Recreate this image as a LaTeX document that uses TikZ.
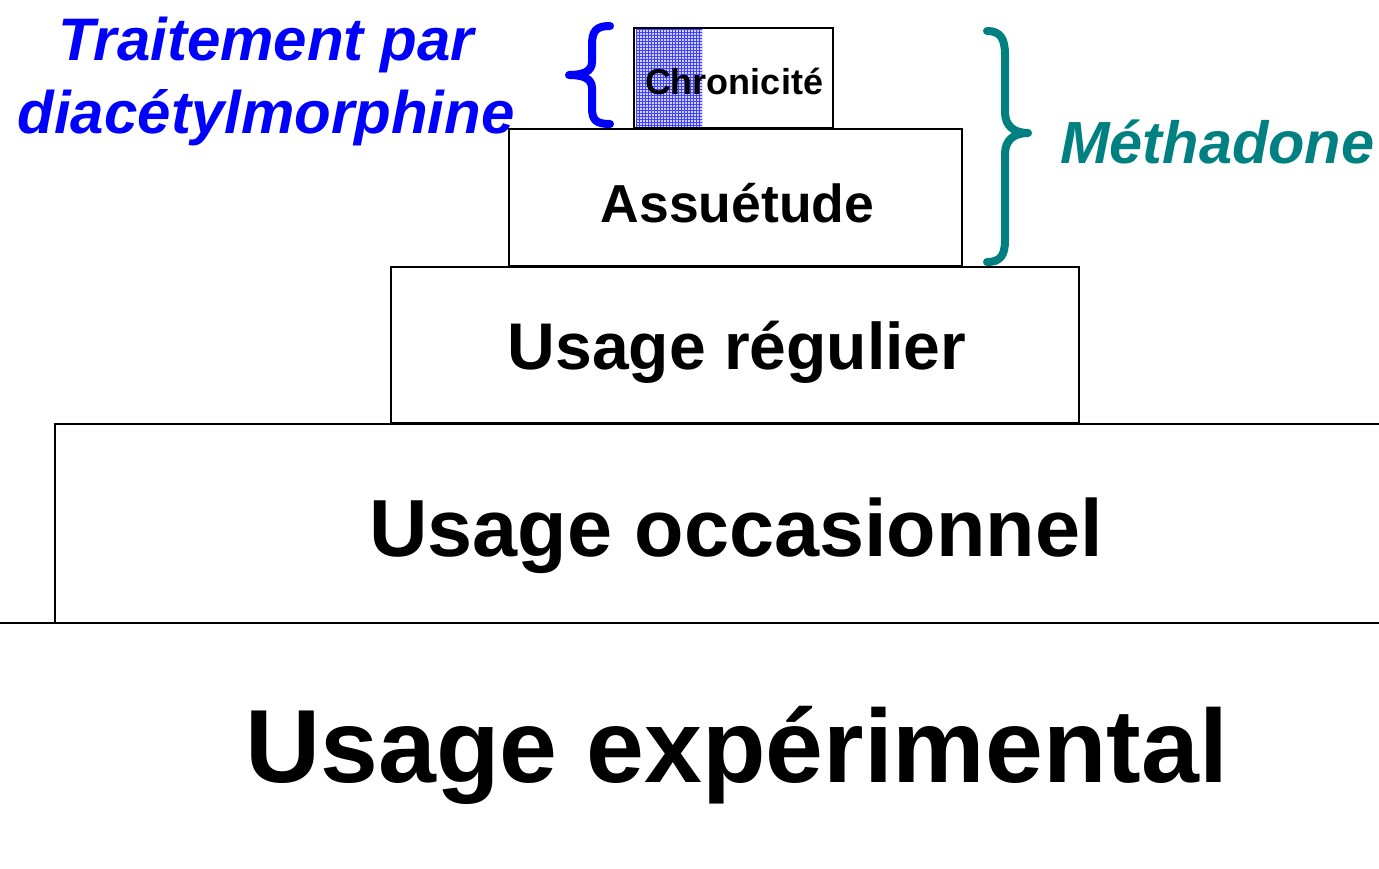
\documentclass[tikz,border=0pt]{standalone}
\usepackage{fontspec}
\setmainfont{Liberation Sans}
\usetikzlibrary{patterns}
\definecolor{teal8}{HTML}{008080}
\definecolor{blueF}{HTML}{0000FF}
\newcommand{\fsz}[1]{\fontsize{#1}{#1}\selectfont}
\begin{document}
\begin{tikzpicture}[x=1pt,y=-1pt,
  boxline/.style={draw=black,line width=1.8pt},
  lvl/.style={boxline,rectangle,inner sep=0pt,font=\bfseries},
  lbl/.style={inner sep=0pt,font=\bfseries},
  bracestyle/.style={line width=8pt,line cap=round,line join=round}]
\useasboundingbox (0,0) rectangle (1379,869);
% experimental base line
\draw[boxline] (0,623) -- (1379,623);
% occasionnel box
\draw[boxline] (1385,424) -- (55,424) -- (55,623);
\node[lbl,font=\bfseries\fsz{81}] (occ) at (736,536) {Usage occasionnel};
\node[lbl,font=\bfseries\fsz{104}] (exp) at (737,755) {Usage expérimental};
% régulier
\node[lvl,minimum width=688pt,minimum height=156pt] (reg) at (735,345) {};
\node[lbl,font=\bfseries\fsz{66}] (regt) at (737,352) {Usage régulier};
% assuétude
\node[lvl,minimum width=453pt,minimum height=137pt] (ass) at (735.5,197.5) {};
\node[lbl,font=\bfseries\fsz{53.5}] (asst) at (737.5,203) {Assuétude};
% chronicité
\fill[blueF!18] (636,29) rectangle (702,128);
\fill[pattern=grid,pattern color=blueF!75] (636,29) rectangle (702,128);
\node[lvl,minimum width=199pt,minimum height=100pt] (chr) at (733.5,78) {};
\node[lbl,font=\bfseries\fsz{36}] (chrt) at (734,81) {Chronicité};
% blue label and brace
\node[lbl,font=\bfseries\itshape\fsz{60},text=blueF,align=center] (diam) at (266,81)
  {Traitement par\\[13pt]diacétylmorphine};
\draw[bracestyle,blueF] (610,26) .. controls (596,26) and (592,31) .. (592,45) -- (592,62)
  .. controls (592,72) and (582,75) .. (569,75) .. controls (582,75) and (592,78) .. (592,88)
  -- (592,108) .. controls (592,120) and (596,124) .. (610,124);
% teal brace and label
\draw[bracestyle,teal8] (987,31) .. controls (1000,31) and (1005,38) .. (1005,55) -- (1005,112)
  .. controls (1005,126) and (1014,133) .. (1028,133) .. controls (1014,133) and (1005,140) .. (1005,154)
  -- (1005,240) .. controls (1005,256) and (1000,262) .. (987,262);
\node[lbl,font=\bfseries\itshape\fsz{59.5},text=teal8,anchor=west] (meth) at (1060,142) {Méthadone};
\end{tikzpicture}
\end{document}
